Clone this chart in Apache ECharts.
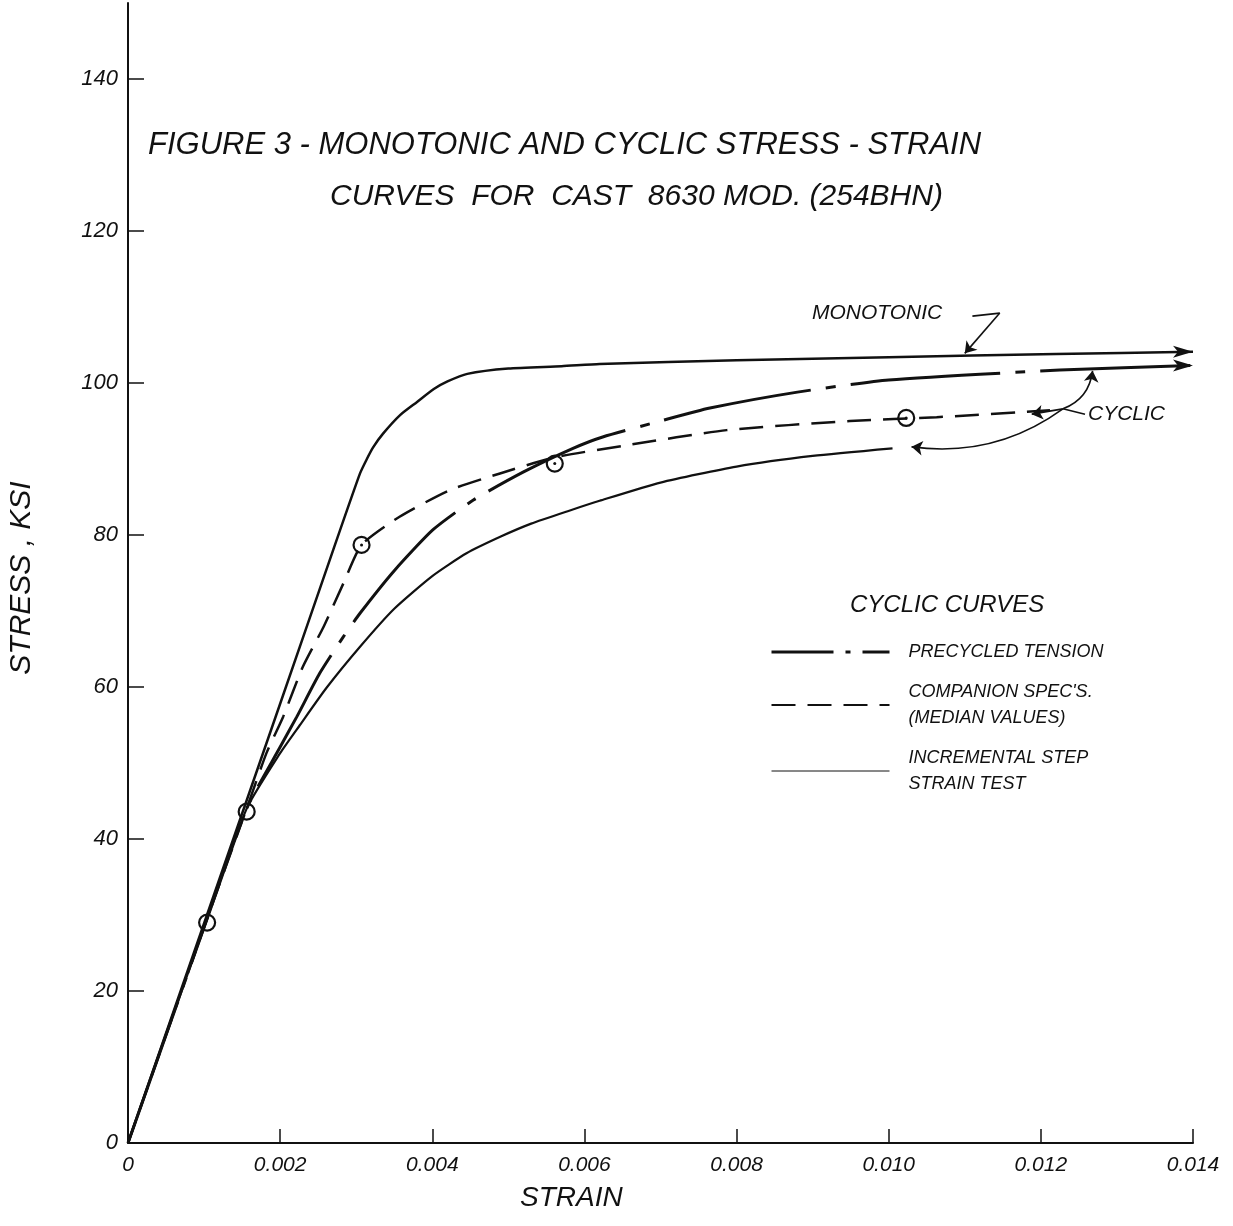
<!DOCTYPE html>
<html>
<head>
<meta charset="utf-8">
<style>
  html, body { margin: 0; padding: 0; background: #fff; }
  #chart { width: 1233px; height: 1226px; }
</style>
<script src="https://cdn.jsdelivr.net/npm/echarts@6/dist/echarts.min.js"></script>
</head>
<body>
<div id="chart"></div>
<script>
// values: strain (in/in), stress (ksi)
const monoStrain = [0, 0.0020, 0.0027, 0.00305, 0.00314, 0.00322, 0.00335, 0.00358, 0.0038, 0.00402, 0.0042, 0.00446, 0.0050, 0.0057, 0.0062, 0.0080, 0.0100, 0.0122, 0.0140];
const monoStress = [0, 57.8, 78.1, 88.1, 90.0, 91.5, 93.3, 95.8, 97.5, 99.2, 100.2, 101.2, 101.9, 102.2, 102.5, 103.0, 103.4, 103.8, 104.1];

const preStrain = [0, 0.00104, 0.00156, 0.0020, 0.00222, 0.00252, 0.00283, 0.00305, 0.0035, 0.00401, 0.00454, 0.0052, 0.00585, 0.00624, 0.0070, 0.00765, 0.0088, 0.0100, 0.01225, 0.0140];
const preStress = [0, 29.5, 44.0, 52.1, 56.1, 61.8, 66.6, 69.7, 75.3, 80.7, 84.6, 88.3, 91.4, 92.9, 95.0, 96.7, 98.8, 100.4, 101.7, 102.3];

const compStrain = [0, 0.00104, 0.00156, 0.00182, 0.00204, 0.0023, 0.00257, 0.00283, 0.00307, 0.00357, 0.00423, 0.00489, 0.0056, 0.00655, 0.00787, 0.00949, 0.01063, 0.01212];
const compStress = [0, 29.5, 44.0, 51.3, 56.1, 62.7, 67.9, 73.6, 78.7, 82.4, 85.9, 88.1, 90.2, 91.8, 93.8, 95.0, 95.5, 96.4];

const incStrain = [0, 0.00104, 0.00156, 0.0020, 0.00226, 0.00261, 0.00305, 0.0035, 0.0040, 0.00445, 0.0049, 0.0053, 0.0058, 0.0062, 0.0070, 0.0080, 0.0090, 0.01005];
const incStress = [0, 29.5, 44.0, 51.3, 55.0, 59.9, 65.3, 70.3, 74.6, 77.6, 79.8, 81.5, 83.2, 84.5, 86.9, 89.0, 90.4, 91.4];

// test points (circles)
const ptStrain = [0.00104, 0.00156, 0.00307, 0.00561, 0.01023];
const ptStress = [29.0, 43.6, 78.7, 89.4, 95.4];

// leader lines for the hand-written notes: [from, to, curveness]
const arrowLeaders = [
  [[0.01146, 109.2], [0.01100, 103.9], 0],
  [[0.01229, 96.6], [0.01268, 101.6], -0.3],
  [[0.01229, 96.6], [0.01188, 95.9], 0],
  [[0.01229, 96.6], [0.01030, 91.6], 0.2]
];
const plainLeaders = [
  [[0.01110, 108.8], [0.01146, 109.2], 0],
  [[0.01229, 96.6], [0.01258, 95.9], 0]
];

const NAME_PRE = 'PRECYCLED TENSION';
const NAME_COMP = "COMPANION SPEC'S.\n(MEDIAN VALUES)";
const NAME_INC = 'INCREMENTAL STEP\nSTRAIN TEST';

const FONT = 'Liberation Sans';
const INK = '#111';

function pairs(xs, ys) {
  return xs.map((x, i) => [x, ys[i]]);
}

// put an arrow head on the last point of a curve
function withArrow(pts) {
  const out = pts.slice(0, -1);
  out.push({value: pts[pts.length - 1], symbol: 'arrow', symbolRotate: -90, symbolSize: [9, 20]});
  return out;
}

function leaderData(list) {
  return list.map(l => ({coords: [l[0], l[1]], lineStyle: {curveness: l[2]}}));
}

const chart = echarts.init(document.getElementById('chart'));

chart.setOption({
  animation: false,
  backgroundColor: '#fff',
  grid: {left: 128, right: 40, top: 3, bottom: 83},
  xAxis: {
    type: 'value', min: 0, max: 0.014, interval: 0.002,
    axisLine: {lineStyle: {color: INK, width: 2}},
    axisTick: {inside: true, length: 14, lineStyle: {color: INK, width: 1.5}},
    splitLine: {show: false},
    axisLabel: {
      margin: 12, color: INK, fontFamily: FONT, fontStyle: 'italic', fontSize: 21,
      formatter: v => v === 0 ? '0' : v.toFixed(3)
    }
  },
  yAxis: {
    type: 'value', min: 0, max: 150, interval: 20,
    axisLine: {lineStyle: {color: INK, width: 2}},
    axisTick: {inside: true, length: 16, lineStyle: {color: INK, width: 1.5}},
    splitLine: {show: false},
    axisLabel: {
      margin: 10, color: INK, fontFamily: FONT, fontStyle: 'italic', fontSize: 22,
      showMaxLabel: false
    }
  },
  legend: {
    orient: 'vertical', left: 765, top: 634,
    itemWidth: 118, itemHeight: 14, itemGap: 14,
    itemStyle: {opacity: 0},
    textStyle: {color: INK, fontFamily: FONT, fontStyle: 'italic', fontSize: 18, lineHeight: 26, padding: [0, 0, 0, 14]},
    data: [
      {name: NAME_PRE, lineStyle: {type: [62, 12, 5, 12], width: 3}},
      {name: NAME_COMP},
      {name: NAME_INC, lineStyle: {width: 1}}
    ]
  },
  graphic: [
    {type: 'text', left: 148, top: 130, style: {text: 'FIGURE 3 - MONOTONIC AND CYCLIC STRESS - STRAIN', fill: INK, fontFamily: FONT, fontStyle: 'italic', fontSize: 31}},
    {type: 'text', left: 330, top: 182, style: {text: 'CURVES  FOR  CAST  8630 MOD. (254BHN)', fill: INK, fontFamily: FONT, fontStyle: 'italic', fontSize: 30}},
    {type: 'text', left: 812, top: 303, style: {text: 'MONOTONIC', fill: INK, fontFamily: FONT, fontStyle: 'italic', fontSize: 21}},
    {type: 'text', left: 1088, top: 404, style: {text: 'CYCLIC', fill: INK, fontFamily: FONT, fontStyle: 'italic', fontSize: 21}},
    {type: 'text', left: 850, top: 593, style: {text: 'CYCLIC CURVES', fill: INK, fontFamily: FONT, fontStyle: 'italic', fontSize: 24}},
    {type: 'text', left: 520, top: 1184, style: {text: 'STRAIN', fill: INK, fontFamily: FONT, fontStyle: 'italic', fontSize: 28}},
    {type: 'text', x: 22, y: 578, rotation: Math.PI / 2, style: {text: 'STRESS , KSI', fill: INK, fontFamily: FONT, fontStyle: 'italic', fontSize: 30, align: 'center', verticalAlign: 'middle'}}
  ],
  series: [
    {
      name: 'MONOTONIC', type: 'line', smooth: 0.2,
      symbol: 'none', showSymbol: true,
      lineStyle: {color: INK, width: 2.5},
      itemStyle: {color: INK},
      data: withArrow(pairs(monoStrain, monoStress))
    },
    {
      name: NAME_PRE, type: 'line', smooth: 0.2,
      symbol: 'none', showSymbol: true,
      lineStyle: {color: INK, width: 3, type: [150, 15, 10, 15]},
      itemStyle: {color: INK},
      data: withArrow(pairs(preStrain, preStress))
    },
    {
      name: NAME_COMP, type: 'line', smooth: 0.2,
      symbol: 'none',
      lineStyle: {color: INK, width: 2.5, type: [24, 12]},
      itemStyle: {color: INK},
      data: pairs(compStrain, compStress)
    },
    {
      name: NAME_INC, type: 'line', smooth: 0.2,
      symbol: 'none',
      lineStyle: {color: INK, width: 2.2},
      itemStyle: {color: INK},
      data: pairs(incStrain, incStress)
    },
    {
      name: 'points', type: 'scatter', symbol: 'circle', symbolSize: 16,
      itemStyle: {color: 'rgba(0,0,0,0)', borderColor: INK, borderWidth: 2.2, opacity: 1},
      data: pairs(ptStrain, ptStress), z: 5
    },
    {
      name: 'point dots', type: 'scatter', symbol: 'circle', symbolSize: 3,
      itemStyle: {color: INK, opacity: 1},
      data: pairs(ptStrain, ptStress).slice(2), z: 5
    },
    {
      name: 'leaders', type: 'lines', coordinateSystem: 'cartesian2d',
      symbol: ['none', 'arrow'], symbolSize: 11,
      lineStyle: {color: INK, width: 1.6, opacity: 1},
      data: leaderData(arrowLeaders)
    },
    {
      name: 'leader ticks', type: 'lines', coordinateSystem: 'cartesian2d',
      symbol: 'none',
      lineStyle: {color: INK, width: 1.6, opacity: 1},
      data: leaderData(plainLeaders)
    }
  ]
});

window.addEventListener('resize', function () {
  chart.resize();
});
</script>
</body>
</html>
